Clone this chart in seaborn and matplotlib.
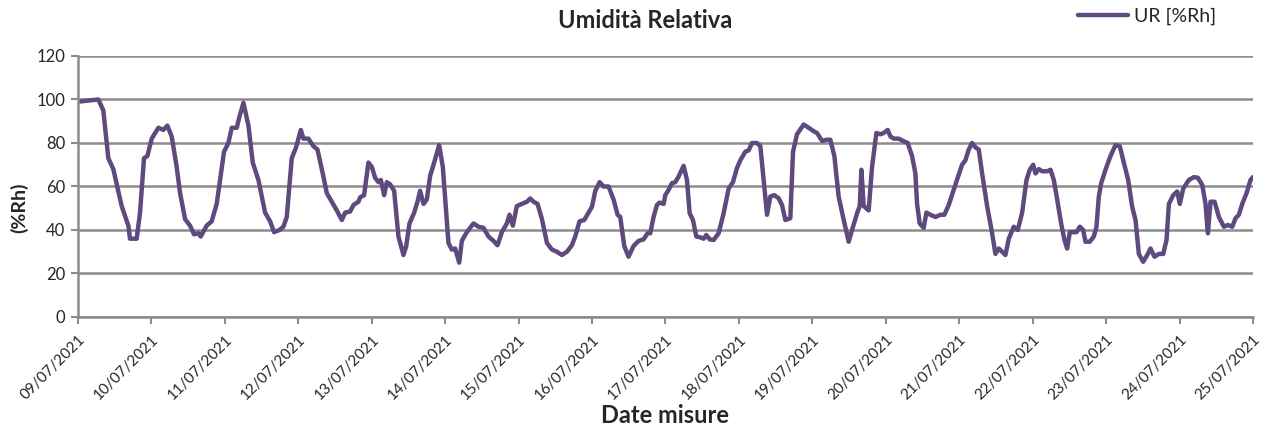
import matplotlib
matplotlib.use("Agg")
from matplotlib import pyplot as plt
import pandas as pd
import seaborn as sns

# giorni trascorsi dal 09/07/2021 00:00 e umidita' relativa
giorni = [
    0.0, 0.277, 0.345, 0.413, 0.481, 0.595, 0.686, 0.708, 0.799, 0.845, 0.899, 0.945,
    1.004, 1.095, 1.163, 1.217, 1.276, 1.344, 1.390, 1.458, 1.526, 1.580, 1.639, 1.671,
    1.753, 1.821, 1.889, 1.935, 1.989, 2.048, 2.094, 2.162, 2.198, 2.253, 2.321, 2.380,
    2.457, 2.548, 2.616, 2.670, 2.743, 2.797, 2.843, 2.911, 2.970, 3.034, 3.070, 3.138,
    3.206, 3.261, 3.333, 3.388, 3.456, 3.524, 3.593, 3.638, 3.706, 3.752, 3.819, 3.842,
    3.896, 3.955, 4.001, 4.046, 4.092, 4.124, 4.169, 4.205, 4.251, 4.305, 4.364, 4.432,
    4.469, 4.514, 4.578, 4.623, 4.659, 4.705, 4.750, 4.796, 4.850, 4.918, 4.968, 5.014,
    5.045, 5.091, 5.136, 5.191, 5.227, 5.295, 5.386, 5.454, 5.522, 5.590, 5.658, 5.713,
    5.772, 5.840, 5.876, 5.922, 5.976, 6.045, 6.113, 6.158, 6.203, 6.258, 6.318, 6.386,
    6.454, 6.522, 6.590, 6.658, 6.726, 6.771, 6.830, 6.894, 6.953, 6.999, 7.044, 7.103,
    7.157, 7.225, 7.293, 7.348, 7.384, 7.439, 7.497, 7.565, 7.634, 7.702, 7.756, 7.793,
    7.838, 7.884, 7.920, 7.975, 7.997, 8.043, 8.088, 8.134, 8.179, 8.247, 8.293, 8.329,
    8.374, 8.420, 8.474, 8.520, 8.556, 8.602, 8.656, 8.724, 8.792, 8.860, 8.919, 8.974,
    9.019, 9.087, 9.133, 9.178, 9.246, 9.292, 9.337, 9.383, 9.428, 9.482, 9.541, 9.587,
    9.632, 9.700, 9.737, 9.791, 9.882, 9.950, 10.018, 10.064, 10.132, 10.200, 10.245, 10.300,
    10.358, 10.427, 10.495, 10.541, 10.609, 10.645, 10.668, 10.699, 10.767, 10.813, 10.872, 10.926,
    10.972, 11.026, 11.063, 11.108, 11.176, 11.244, 11.298, 11.358, 11.403, 11.426, 11.462, 11.516,
    11.553, 11.608, 11.676, 11.744, 11.798, 11.857, 11.925, 11.993, 12.039, 12.084, 12.130, 12.175,
    12.221, 12.266, 12.312, 12.380, 12.448, 12.493, 12.539, 12.584, 12.629, 12.675, 12.743, 12.797,
    12.857, 12.916, 12.961, 13.007, 13.038, 13.084, 13.129, 13.198, 13.243, 13.288, 13.334, 13.388,
    13.433, 13.470, 13.506, 13.551, 13.597, 13.642, 13.688, 13.719, 13.778, 13.833, 13.869, 13.901,
    13.933, 13.992, 14.060, 14.128, 14.187, 14.241, 14.301, 14.355, 14.401, 14.446, 14.505, 14.560,
    14.605, 14.659, 14.718, 14.778, 14.823, 14.855, 14.914, 14.968, 15.004, 15.050, 15.127, 15.195,
    15.250, 15.309, 15.354, 15.386, 15.422, 15.477, 15.536, 15.604, 15.658, 15.718, 15.763, 15.808,
    15.854, 15.913, 15.967, 16.0,
]
ur = [
    99, 100, 95, 73, 68, 51, 42, 36, 36, 48, 73, 74,
    82, 87, 86, 88, 83, 69, 57, 45, 42, 38, 38.5, 37,
    42, 44, 52, 63, 76, 80, 87, 87, 92, 98.5, 88, 71,
    63, 48, 44, 39, 40, 41.5, 46, 73, 78, 86, 82, 82,
    78.5, 77, 66, 57, 53, 49, 44.6, 48, 48.5, 51.5, 53, 55,
    56, 71, 69, 64, 62, 63, 56, 62, 61, 58, 37, 28.5,
    32.5, 43, 48, 53, 58, 52, 54, 65, 71, 79, 69, 48,
    34, 31, 31.5, 25, 35, 39, 43, 41.5, 41, 37, 35, 33,
    39, 43, 47, 42, 51, 52, 53, 54.5, 53, 52, 45, 34,
    31, 30, 28.5, 30, 33, 37, 44, 44.6, 48, 50.7, 58, 62,
    60, 60, 54, 47, 46, 32.6, 27.7, 32.6, 35, 35.7, 38.5, 38.5,
    46, 51.5, 52.6, 52, 56, 58.5, 61.5, 62, 64.6, 69.5, 63, 47.7,
    44.6, 37, 36.6, 36, 37.7, 35.7, 35.4, 38.5, 47.7, 59, 62, 68.5,
    72, 76, 76.6, 80, 80, 78.5, 63, 47, 55.4, 56, 54.6, 51.5,
    44.6, 45.4, 76, 84, 88.5, 87, 85.4, 84.6, 81, 81.5, 81.5, 74,
    55.4, 44.6, 34.6, 40, 47.7, 51, 67.7, 51, 49, 69, 84.6, 84,
    84.6, 86, 83, 82, 82, 80.8, 80, 74, 66, 52, 43, 41,
    48, 47, 46, 47, 47, 51.5, 58.5, 65.4, 70, 72, 77, 80,
    78, 77, 66, 51, 38.5, 29, 31.5, 30, 28.5, 36, 41.5, 40,
    48, 63, 67.7, 70, 66, 68, 67, 67, 67.7, 63, 54, 43,
    35.4, 31.5, 39, 39, 39, 41.5, 40, 34.6, 34.6, 37, 41.5, 55.4,
    61.5, 67.7, 74, 79, 78.5, 71, 63, 50.7, 44.6, 29, 25.4, 28.5,
    31.5, 27.7, 29, 29, 35.4, 52, 56, 57.7, 52, 59, 63, 64.3,
    64, 60.8, 52, 38.5, 53, 53, 46, 41.5, 42.3, 41.5, 45.4, 47,
    52, 57, 63, 64.3,
]
etichette_giorni = [f"{d:02d}/07/2021" for d in range(9, 26)]

inizio = pd.Timestamp("2021-07-09")
df = pd.DataFrame({
    "data": inizio + pd.to_timedelta(giorni, unit="D"),
    "UR [%Rh]": ur,
})

sns.set_style("white")
plt.rcParams["font.family"] = ["Lato", "DejaVu Sans"]

grigio = "#8c8c8c"
viola = "#5e4a7e"

fig = plt.figure(figsize=(12.66, 4.33), dpi=100)
ax = fig.add_axes([0.0616, 0.2679, 0.9281, 0.6028])

sns.lineplot(data=df, x="data", y="UR [%Rh]", ax=ax, color=viola, linewidth=3.2,
             label="UR [%Rh]", legend=False)

ax.set_ylim(0, 120)
ax.set_yticks(range(0, 121, 20))
ax.set_xlim(inizio, inizio + pd.Timedelta(days=16))
tick_date = pd.date_range("2021-07-09", "2021-07-25", freq="D")
ax.set_xticks(tick_date)
ax.set_xticklabels(etichette_giorni, rotation=45, ha="right", rotation_mode="anchor",
                   fontsize=11)
ax.tick_params(axis="y", labelsize=12, length=5, width=1.5, color=grigio, direction="out",
               left=True, pad=4)
ax.tick_params(axis="x", length=5, width=1.5, color=grigio, direction="out", bottom=True,
               pad=6)

ax.grid(axis="y", color=grigio, linewidth=1.8)
ax.set_axisbelow(True)
for lato in ["top", "right"]:
    ax.spines[lato].set_visible(False)
for lato in ["left", "bottom"]:
    ax.spines[lato].set_color(grigio)
    ax.spines[lato].set_linewidth(1.8)

ax.set_xlabel("")
ax.set_ylabel("")
fig.text(0.5095, 0.9346, "Umidità Relativa", ha="center", va="baseline", fontsize=17,
         fontweight="bold")
fig.text(0.015, 0.52, "(%Rh)", ha="center", va="center", rotation=90, fontsize=14,
         fontweight="bold")
fig.text(0.525, 0.023, "Date misure", ha="center", va="baseline", fontsize=17,
         fontweight="bold")

fig.legend(loc="center", bbox_to_anchor=(0.906, 0.962), frameon=False, fontsize=14,
           handlelength=2.6, handletextpad=0.3)

fig.savefig("out.png", dpi=100)
